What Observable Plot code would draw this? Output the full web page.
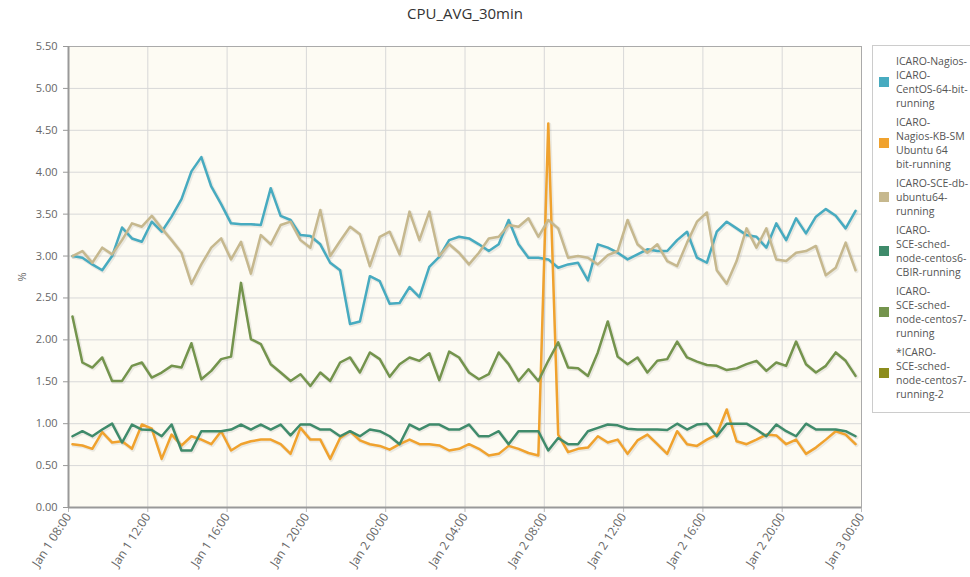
<!DOCTYPE html>
<html><head><meta charset="utf-8">
<script src="https://cdn.jsdelivr.net/npm/d3@7"></script>
<script src="https://cdn.jsdelivr.net/npm/@observablehq/plot@0.6"></script>
<style>
body{margin:0;background:#fff;font-family:"Open Sans",sans-serif;}
#wrap{position:relative;width:970px;height:577px;overflow:hidden;}
#title{position:absolute;left:0;top:3px;width:930px;text-align:center;font-size:15px;color:#333;}
#chart{position:absolute;left:0;top:30px;}
#legend{position:absolute;left:872px;top:45px;width:110px;height:368px;border:1px solid #ccc;background:#fff;box-sizing:border-box;padding:8px 0 0 0;}
.item{display:flex;align-items:center;margin-bottom:5px;}
.sw{width:10px;height:10px;margin:0 7px 0 6px;flex:none;}
.txt{font-size:10.5px;line-height:14px;color:#555;white-space:nowrap;}
</style></head>
<body>
<div id="wrap">
  <div id="title">CPU_AVG_30min</div>
  <div id="chart"></div>
  <div id="legend"></div>
</div>
<script>
const seriesNames = [
  "ICARO-Nagios-ICARO-CentOS-64-bit-running",
  "ICARO-Nagios-KB-SM Ubuntu 64 bit-running",
  "ICARO-SCE-db-ubuntu64-running",
  "ICARO-SCE-sched-node-centos6-CBIR-running",
  "ICARO-SCE-sched-node-centos7-running",
  "*ICARO-SCE-sched-node-centos7-running-2"
];
const legendLines = [
  ["ICARO-Nagios-","ICARO-","CentOS-64-bit-","running"],
  ["ICARO-","Nagios-KB-SM","Ubuntu 64","bit-running"],
  ["ICARO-SCE-db-","ubuntu64-","running"],
  ["ICARO-","SCE-sched-","node-centos6-","CBIR-running"],
  ["ICARO-","SCE-sched-","node-centos7-","running"],
  ["*ICARO-","SCE-sched-","node-centos7-","running-2"]
];
const seriesColors = ["#47abc0","#f0a22e","#c6b88e","#3f8b6b","#74944d","#8c8c1c"];

const centos64 = [3.00,2.98,2.90,2.83,3.00,3.34,3.21,3.17,3.41,3.29,3.47,3.68,4.01,4.18,3.83,3.62,3.39,3.38,3.38,3.37,
  3.81,3.48,3.43,3.25,3.24,3.14,2.92,2.83,2.19,2.22,2.76,2.70,2.43,2.44,2.63,2.51,2.87,2.99,3.19,3.23,
  3.21,3.14,3.06,3.14,3.43,3.14,2.98,2.98,2.96,2.86,2.90,2.92,2.71,3.14,3.10,3.04,2.96,3.02,3.08,3.06,
  3.06,3.19,3.29,2.98,2.92,3.29,3.41,3.33,3.25,3.23,3.10,3.39,3.19,3.45,3.27,3.47,3.56,3.48,3.33,3.54];
const kbsm = [0.755,0.74,0.70,0.90,0.775,0.79,0.70,0.99,0.94,0.58,0.87,0.74,0.85,0.81,0.755,0.91,0.68,0.755,0.79,0.81,
  0.81,0.755,0.64,0.95,0.81,0.81,0.58,0.83,0.91,0.80,0.755,0.735,0.69,0.755,0.81,0.755,0.755,0.74,0.68,0.70,
  0.755,0.70,0.62,0.64,0.735,0.70,0.65,0.62,4.58,0.87,0.66,0.70,0.715,0.85,0.775,0.81,0.64,0.80,0.87,0.755,
  0.64,0.91,0.755,0.735,0.81,0.87,1.17,0.79,0.755,0.81,0.87,0.86,0.755,0.81,0.64,0.715,0.81,0.91,0.87,0.755];
const scedb = [3.00,3.06,2.92,3.10,3.02,3.19,3.39,3.35,3.48,3.33,3.19,3.04,2.67,2.90,3.10,3.21,2.96,3.17,2.79,3.25,
  3.14,3.37,3.41,3.19,3.10,3.55,3.00,3.18,3.35,3.26,2.88,3.23,3.29,3.02,3.53,3.19,3.53,3.00,3.14,3.04,
  2.90,3.04,3.21,3.23,3.37,3.35,3.45,3.23,3.43,3.33,2.98,3.00,2.98,2.90,3.01,3.06,3.43,3.14,3.04,3.14,
  2.94,2.88,3.16,3.41,3.52,2.83,2.67,2.94,3.33,3.10,3.33,2.96,2.94,3.04,3.06,3.12,2.77,2.86,3.16,2.83];
const centos6 = [0.85,0.91,0.85,0.93,1.00,0.775,0.99,0.93,0.925,0.85,0.99,0.68,0.68,0.91,0.91,0.91,0.93,0.99,0.93,0.99,
  0.93,0.99,0.86,0.99,0.99,0.93,0.93,0.85,0.91,0.85,0.93,0.91,0.85,0.755,0.99,0.93,0.99,0.99,0.93,0.93,
  0.99,0.85,0.85,0.91,0.755,0.91,0.91,0.91,0.68,0.83,0.755,0.755,0.91,0.95,0.99,0.98,0.94,0.93,0.93,0.93,
  0.925,1.00,0.93,0.99,1.00,0.85,1.00,1.00,1.00,0.93,0.85,0.99,0.91,0.85,1.00,0.93,0.93,0.93,0.91,0.85];
const centos7 = [2.28,1.73,1.67,1.79,1.51,1.51,1.69,1.73,1.55,1.61,1.69,1.67,1.96,1.53,1.63,1.77,1.80,2.68,2.01,1.95,
  1.71,1.61,1.51,1.59,1.45,1.61,1.51,1.73,1.79,1.61,1.85,1.77,1.56,1.71,1.79,1.75,1.84,1.52,1.86,1.79,
  1.61,1.53,1.59,1.85,1.71,1.51,1.65,1.51,1.75,1.97,1.67,1.66,1.57,1.85,2.22,1.80,1.71,1.79,1.61,1.75,
  1.77,1.98,1.79,1.74,1.70,1.69,1.64,1.66,1.71,1.75,1.63,1.73,1.69,1.98,1.71,1.61,1.69,1.85,1.75,1.57];
const centos7b = [];

const yTicks = [0,0.5,1,1.5,2,2.5,3,3.5,4,4.5,5,5.5];
const xTickLabels = ["Jan 1 08:00","Jan 1 12:00","Jan 1 16:00","Jan 1 20:00","Jan 2 00:00","Jan 2 04:00",
  "Jan 2 08:00","Jan 2 12:00","Jan 2 16:00","Jan 2 20:00","Jan 3 00:00"];

const parse = s => { const m = s.match(/Jan (\d+) (\d+):(\d+)/); return new Date(Date.UTC(2017,0,+m[1],+m[2],+m[3])); };
const xTicks = xTickLabels.map(parse);
const start = new Date(Date.UTC(2017,0,1,8,12));
const times = centos64.map((_, i) => new Date(start.getTime() + i * 30 * 60000));

const allSeries = [centos64, kbsm, scedb, centos6, centos7, centos7b];
const data = [];
allSeries.forEach((vals, k) => vals.forEach((v, i) => data.push({t: times[i], v, name: seriesNames[k]})));

const fmt = d3.utcFormat("%b %-d %H:%M");

const chart = Plot.plot({
  width: 870, height: 547,
  marginLeft: 68, marginRight: 9, marginTop: 16, marginBottom: 70,
  style: {fontFamily: "Open Sans, sans-serif", fontSize: "11px", color: "#666", background: "transparent"},
  x: {type: "utc", domain: [xTicks[0], xTicks[xTicks.length - 1]]},
  y: {domain: [0, 5.5]},
  color: {domain: seriesNames, range: seriesColors},
  marks: [
    Plot.frame({fill: "#fdfbf3", stroke: null}),
    Plot.gridY(yTicks, {stroke: "#d8d8d8", strokeOpacity: 1}),
    Plot.gridX(xTicks, {stroke: "#d8d8d8", strokeOpacity: 1}),
    Plot.axisY(yTicks, {tickFormat: d => d.toFixed(2), tickSize: 5, tickPadding: 6, stroke: "#999",
      label: "%", labelAnchor: "center", labelArrow: "none", labelOffset: 50}),
    Plot.axisX(xTicks, {tickFormat: fmt, tickRotate: -57, tickSize: 5, tickPadding: 2, stroke: "#bbb", label: null, fontSize: 12}),
    Plot.frame({stroke: "#aaa"}),
    Plot.ruleY([0], {stroke: "#999", strokeWidth: 2}),
    Plot.ruleX([xTicks[0]], {stroke: "#999", strokeWidth: 2}),
    Plot.line(data, {x: "t", y: "v", z: "name", stroke: "#000", strokeOpacity: 0.07, strokeWidth: 4, dx: 1, dy: 1}),
    Plot.line(data, {x: "t", y: "v", z: "name", stroke: "name", strokeWidth: 2.5, strokeLinejoin: "round"})
  ]
});
document.getElementById("chart").appendChild(chart);

const leg = document.getElementById("legend");
seriesNames.forEach((n, k) => {
  const it = document.createElement("div"); it.className = "item";
  const sw = document.createElement("div"); sw.className = "sw"; sw.style.background = seriesColors[k];
  const tx = document.createElement("div"); tx.className = "txt"; tx.innerHTML = legendLines[k].join("<br>");
  it.appendChild(sw); it.appendChild(tx); leg.appendChild(it);
});
</script>
</body></html>
